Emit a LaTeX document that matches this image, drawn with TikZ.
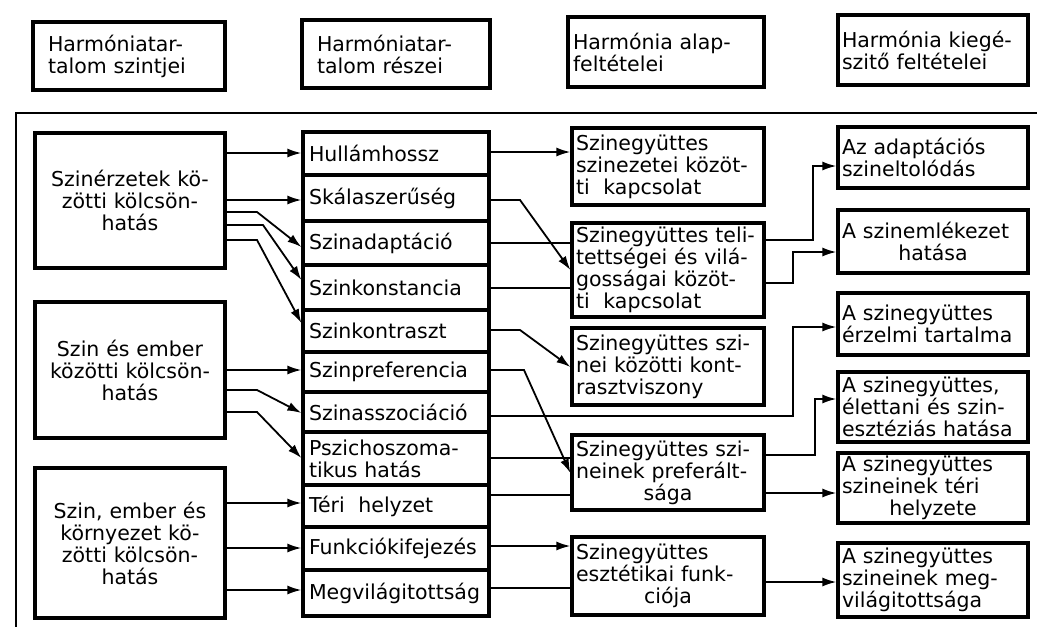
\documentclass[tikz,border=0pt]{standalone}
\usepackage{fontspec}
\setmainfont{DejaVu Sans}
\usetikzlibrary{arrows.meta}
\newcommand{\fs}{\fontsize{20.5}{22}\selectfont}
\newcommand{\cl}[1]{\makebox[\linewidth][c]{#1}}
\begin{document}
\begin{tikzpicture}[x=1pt,y=-1pt,
  box/.style={draw, line width=3.2pt, inner xsep=6pt, inner ysep=0pt, font=\fs, align=left},
  colA/.style={box, minimum width=190pt, text width=178pt},
  cell/.style={box, minimum width=186pt, text width=174pt},
  colC/.style={box, inner xsep=4pt, minimum width=192pt, text width=184pt},
  colD/.style={box, inner xsep=4pt, minimum width=190pt, text width=182pt},
  conn/.style={line width=1.8pt},
  arr/.style={conn, -{Latex[length=14pt,width=9pt]}},
  frameline/.style={line width=1.4pt}]
\useasboundingbox (0,0) rectangle (1037,627);

% header boxes
\node[box, inner xsep=15pt, minimum width=192pt, text width=162pt, minimum height=68pt] (h1) at (129,56) {Harmóniatar-\\talom szintjei};
\node[box, inner xsep=15pt, minimum width=188pt, text width=158pt, minimum height=68pt] (h2) at (396,54) {Harmóniatar-\\talom részei};
\node[box, inner xsep=5pt, minimum width=196pt, text width=186pt, minimum height=70pt] (h3) at (666,52) {Harmónia alap-\\feltételei};
\node[box, inner xsep=4pt, minimum width=190pt, text width=182pt, minimum height=70pt] (h4) at (933,50) {Harmónia kiegé-\\szitő feltételei};

% frame
\draw[frameline] (16,627) -- (16,113) -- (1037,113);

% left column
\node[colA, align=center, minimum height=135pt] (A) at (130,200.5) {Szinérzetek kö-\\zötti kölcsön-\\hatás};
\node[colA, align=center, minimum height=136pt] (B) at (130,370) {Szin és ember\\közötti kölcsön-\\hatás};
\node[colA, align=center, minimum height=150pt] (C) at (130,543) {Szin, ember és\\környezet kö-\\zötti kölcsön-\\hatás};

% middle column
\node[cell, minimum height=43pt] (hul) at (396,153.5) {Hullámhossz};
\node[cell, minimum height=46pt] (ska) at (396,198) {Skálaszerűség};
\node[cell, minimum height=44pt] (ada) at (396,243) {Szinadaptáció};
\node[cell, minimum height=45pt] (kon) at (396,287.5) {Szinkonstancia};
\node[cell, minimum height=42pt] (ktr) at (396,331) {Szinkontraszt};
\node[cell, minimum height=40pt] (pre) at (396,372) {Szinpreferencia};
\node[cell, minimum height=40pt] (asz) at (396,412) {Szinasszociáció};
\node[cell, minimum height=53pt] (psz) at (396,458.5) {Pszichoszoma-\\tikus hatás};
\node[cell, minimum height=42pt] (ter) at (396,506) {Téri\ \ helyzet};
\node[cell, minimum height=43pt] (fun) at (396,548.5) {Funkciókifejezés};
\node[cell, minimum height=46pt] (meg) at (396,593) {Megvilágitottság};

% third column
\node[colC, minimum height=77pt] (c1) at (668,166.5) {Szinegyüttes\\szinezetei közöt-\\ti\ \ kapcsolat};
\node[colC, minimum height=94pt] (c2) at (668,270) {Szinegyüttes teli-\\tettségei és vilá-\\gosságai közöt-\\ti\ \ kapcsolat};
\node[colC, minimum height=77pt] (c3) at (668,366.5) {Szinegyüttes szi-\\nei közötti kont-\\rasztviszony};
\node[colC, minimum height=75pt] (c4) at (668,472.5) {Szinegyüttes szi-\\neinek preferált-\\\cl{sága}};
\node[colC, minimum height=78pt] (c5) at (668,576) {Szinegyüttes\\esztétikai funk-\\\cl{ciója}};

% fourth column
\node[colD, minimum height=61pt] (d1) at (933,157.5) {Az adaptációs\\szineltolódás};
\node[colD, minimum height=63pt] (d2) at (933,241.5) {A szinemlékezet\\\cl{hatása}};
\node[colD, minimum height=62pt] (d3) at (933,324) {A szinegyüttes\\érzelmi tartalma};
\node[colD, minimum height=70pt] (d4) at (933,407) {A szinegyüttes,\\élettani és szin-\\esztéziás hatása};
\node[colD, minimum height=70pt] (d5) at (933,488) {A szinegyüttes\\szineinek téri\\\cl{helyzete}};
\node[colD, minimum height=74pt] (d6) at (933,580) {A szinegyüttes\\szineinek meg-\\világitottsága};

% left -> middle
\draw[arr] (A.east |- 0,153) -- (hul.west |- 0,153);
\draw[arr] (A.east |- 0,200) -- (ska.west |- 0,200);
\coordinate (a3) at (257,212);
\coordinate (a4) at (263,225);
\coordinate (a5) at (257,240);
\draw[arr] (A.east |- a3) -- (a3) -- (ada.west |- 0,247);
\draw[arr] (A.east |- a4) -- (a4) -- (kon.west |- 0,280);
\draw[arr] (A.east |- a5) -- (a5) -- (ktr.west |- 0,323);

\draw[arr] (B.east |- 0,370) -- (pre.west |- 0,370);
\coordinate (b2) at (257,390);
\coordinate (b3) at (257,412);
\draw[arr] (B.east |- b2) -- (b2) -- (asz.west |- 0,413);
\draw[arr] (B.east |- b3) -- (b3) -- (psz.west |- 0,458);

\draw[arr] (C.east |- 0,503) -- (ter.west |- 0,503);
\draw[arr] (C.east |- 0,548) -- (fun.west |- 0,548);
\draw[arr] (C.east |- 0,590) -- (meg.west |- 0,590);

% middle -> third
\draw[arr] (hul.east |- 0,152) -- (c1.west |- 0,152);
\coordinate (m2) at (520,200);
\draw[arr] (ska.east |- m2) -- (m2) -- (c2.west |- 0,270);
\draw[conn] (ada.east |- 0,243) -- (c2.west |- 0,243);
\draw[conn] (kon.east |- 0,288) -- (c2.west |- 0,288);
\coordinate (m5) at (520,330);
\draw[arr] (ktr.east |- m5) -- (m5) -- (c3.west |- 0,367);
\coordinate (m6) at (524,370);
\draw[arr] (pre.east |- m6) -- (m6) -- (c4.west |- 0,473);
\coordinate (m7a) at (793,416);
\coordinate (m7b) at (793,327);
\draw[arr] (asz.east |- m7a) -- (m7a) -- (m7b) -- (d3.west |- m7b);
\draw[conn] (psz.east |- 0,458) -- (c4.west |- 0,458);
\draw[conn] (ter.east |- 0,495) -- (c4.west |- 0,495);
\draw[arr] (fun.east |- 0,546) -- (c5.west |- 0,546);
\draw[conn] (meg.east |- 0,588) -- (c5.west |- 0,588);

% third -> fourth
\coordinate (r1a) at (813,240);
\coordinate (r1b) at (813,166);
\draw[arr] (c2.east |- r1a) -- (r1a) -- (r1b) -- (d1.west |- r1b);
\coordinate (r2a) at (793,283);
\coordinate (r2b) at (793,252);
\draw[arr] (c2.east |- r2a) -- (r2a) -- (r2b) -- (d2.west |- r2b);
\coordinate (r4a) at (815,455);
\coordinate (r4b) at (815,399);
\draw[arr] (c4.east |- r4a) -- (r4a) -- (r4b) -- (d4.west |- r4b);
\draw[arr] (c4.east |- 0,493) -- (d5.west |- 0,493);
\draw[arr] (c5.east |- 0,582) -- (d6.west |- 0,582);
\end{tikzpicture}
\end{document}
